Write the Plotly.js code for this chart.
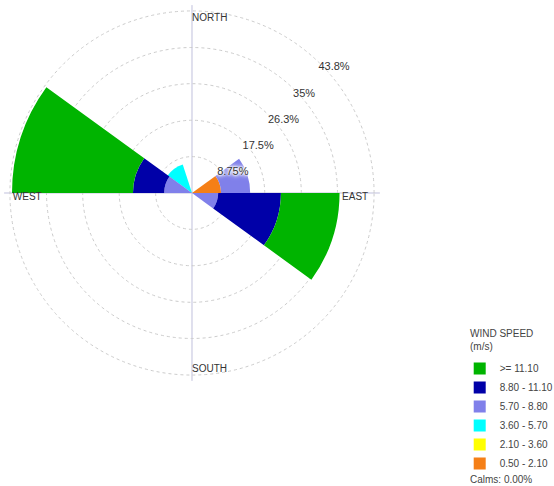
<!DOCTYPE html>
<html>
<head>
<meta charset="utf-8">
<script src="https://cdn.plot.ly/plotly-3.0.1.min.js"></script>
<style>html,body{margin:0;padding:0;background:#fff;}#chart{width:554px;height:486px;}</style>
</head>
<body>
<div id="chart"></div>
<script>
// ---- data ----
var directions = [0, 36, 72, 108, 144, 180, 216, 252, 288, 324];
var speedBins = ['0.50 - 2.10', '2.10 - 3.60', '3.60 - 5.70', '5.70 - 8.80', '8.80 - 11.10', '>= 11.10'];
var bin050_210  = [0, 0, 7.0, 0,    0, 0, 0, 0, 0,    0];
var bin210_360  = [0, 0, 0,   0,    0, 0, 0, 0, 0,    0];
var bin360_570  = [0, 0, 0,   0,    0, 0, 0, 0, 0,    7.2];
var bin570_880  = [0, 0, 7.0, 6.3,  0, 0, 0, 0, 6.7,  0];
var bin880_1110 = [0, 0, 0,   15.1, 0, 0, 0, 0, 7.5,  0];
var bin1110     = [0, 0, 0,   14.1, 0, 0, 0, 0, 29.1, 0];
var ringTicks = [8.75, 17.5, 26.3, 35, 43.8];
var ringLabels = ['8.75%', '17.5%', '26.3%', '35%', '43.8%'];
var compassTheta = [0, 90, 180, 270];
var compassNames = ['NORTH', 'EAST', 'SOUTH', 'WEST'];
var legendTitle = 'WIND SPEED<br>(m/s)';
var calmsText = 'Calms: 0.00%';

// ---- styles ----
var binColors = ['#f57f17', '#ffff00', '#00ffff', '#8080ea', '#0000a8', '#00b400'];
var compassR = [41.9, 42.4, 42.5, 43.1];
var compassPos = ['middle right', 'bottom left', 'middle right', 'bottom right'];
var ringLabelAngle = 44;
var font = 'Liberation Sans, Arial, sans-serif';
var whiteBox = '0 0 2px #fff, 0 0 2px #fff, 0 0 3px #fff, 0 0 4px #fff, 0 0 5px #fff, 0 0 6px #fff';

var series = [bin050_210, bin210_360, bin360_570, bin570_880, bin880_1110, bin1110];
var traces = series.map(function (vals, i) {
  return {
    type: 'barpolar',
    r: vals,
    theta: directions,
    width: 36,
    name: speedBins[i],
    marker: {color: binColors[i], line: {width: 0}},
    hoverinfo: 'skip'
  };
});
traces.push({
  type: 'scatterpolar',
  mode: 'text',
  r: compassR,
  theta: compassTheta,
  text: compassNames,
  textposition: compassPos,
  textfont: {family: font, size: 10, color: '#333'},
  showlegend: false,
  hoverinfo: 'skip'
});
traces.push({
  type: 'scatterpolar',
  mode: 'text',
  r: ringTicks,
  theta: ringTicks.map(function () { return ringLabelAngle; }),
  text: ringLabels,
  textposition: 'bottom right',
  textfont: {family: font, size: 11, color: '#333', shadow: whiteBox},
  showlegend: false,
  hoverinfo: 'skip'
});

var layout = {
  width: 554, height: 486,
  margin: {l: 0, r: 0, t: 0, b: 0, autoexpand: false},
  paper_bgcolor: '#fff',
  font: {family: font, size: 10, color: '#444'},
  showlegend: true,
  polar: {
    domain: {x: [0.0074, 0.6857], y: [0.2163, 0.9895]},
    bgcolor: '#fff',
    barmode: 'stack',
    radialaxis: {
      range: [0, 45.2],
      tickvals: ringTicks,
      showticklabels: false,
      showline: false,
      ticks: '',
      gridcolor: '#cccccc',
      griddash: 'dot',
      gridwidth: 1
    },
    angularaxis: {
      rotation: 90,
      direction: 'clockwise',
      tickvals: compassTheta,
      showticklabels: false,
      ticks: '',
      showline: false,
      gridcolor: '#c0c0dc',
      gridwidth: 1
    }
  },
  legend: {
    x: 0.8298, y: 0.2716, xanchor: 'left', yanchor: 'top',
    traceorder: 'reversed',
    font: {family: font, size: 10, color: '#444'},
    bgcolor: 'rgba(0,0,0,0)'
  },
  annotations: [{
    text: legendTitle, xref: 'paper', yref: 'paper',
    x: 0.845, y: 0.33, xanchor: 'left', yanchor: 'top', align: 'left',
    showarrow: false, font: {family: font, size: 10, color: '#444'}
  }, {
    text: calmsText, xref: 'paper', yref: 'paper',
    x: 0.845, y: 0.0144, xanchor: 'left', yanchor: 'middle',
    showarrow: false, font: {family: font, size: 10, color: '#444'}
  }]
};

Plotly.newPlot('chart', traces, layout, {displayModeBar: false, staticPlot: true});
</script>
</body>
</html>
